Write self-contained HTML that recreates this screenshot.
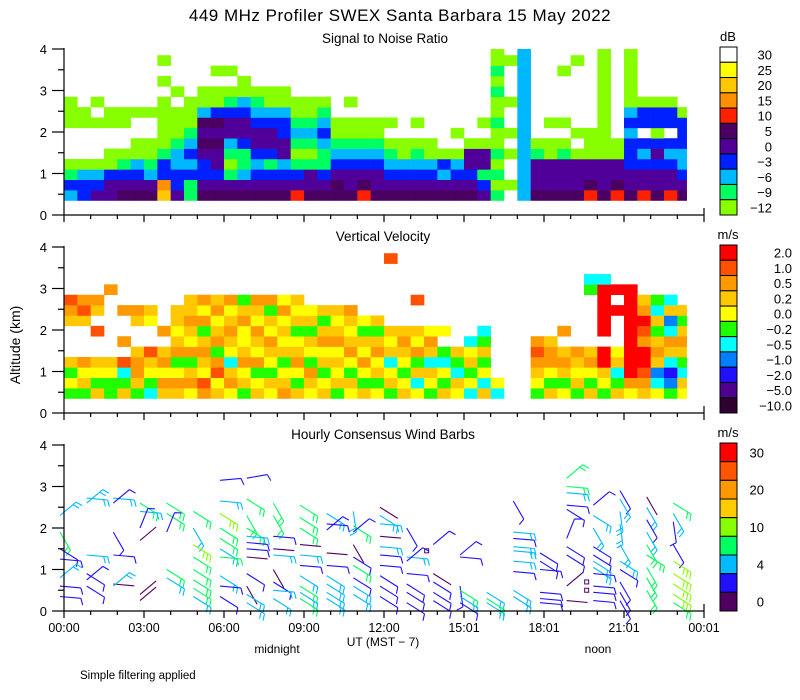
<!DOCTYPE html>
<html><head><meta charset="utf-8"><style>
html,body{margin:0;padding:0;background:#fff;}
svg{display:block;font-family:"Liberation Sans",sans-serif;}
</style></head><body>
<svg id="chart" width="800" height="700" viewBox="0 0 800 700" xmlns="http://www.w3.org/2000/svg">
<rect width="800" height="700" fill="#fff"/>
<text x="400" y="21" font-size="17" text-anchor="middle" letter-spacing="0.5">449 MHz Profiler SWEX Santa Barbara 15 May 2022</text>
<text x="385" y="43" font-size="13.5" text-anchor="middle">Signal to Noise Ratio</text>
<text x="383" y="241" font-size="13.5" text-anchor="middle">Vertical Velocity</text>
<text x="383" y="439" font-size="13.5" text-anchor="middle">Hourly Consensus Wind Barbs</text>
<text transform="translate(20,345) rotate(-90)" font-size="14" text-anchor="middle">Altitude (km)</text>
<text x="383" y="646" font-size="12" text-anchor="middle">UT (MST − 7)</text>
<text x="277" y="653" font-size="12" text-anchor="middle">midnight</text>
<text x="598" y="653" font-size="12" text-anchor="middle">noon</text>
<text x="80" y="679" font-size="11.5">Simple filtering applied</text>
<g id="layers"></g>
</svg>
<script>
// ---------- data ----------
const xTickLabels = ["00:00","03:00","06:00","09:00","12:00","15:01","18:01","21:01","00:01"];
const yTickLabels = ["0","1","2","3","4"];
const snrLabels = ["30","25","20","15","10","5","0","\u22123","\u22126","\u22129","\u221212"];
const snrColors = ["#ffffff","#ffff00","#ffc800","#ff9000","#ff2000","#4a0060","#500098","#0020ff","#00b8ff","#00ff60","#88ff00"];
const vvLabels = ["2.0","1.0","0.5","0.2","0.0","\u22120.2","\u22120.5","\u22121.0","\u22122.0","\u22125.0","\u221210.0"];
const vvColors = ["#ff0000","#ff5000","#ff9900","#ffc800","#ffff00","#20ff00","#00ffff","#0080ff","#2010ff","#500090","#300030"];
const windLabels = ["30","","20","","10","","4","","0"];
const windColors = ["#ff0000","#ff5500","#ff9900","#ffcc00","#88ff00","#00ff60","#00bbff","#2010ff","#500060"];
// SNR grid: one string per half-hour column, rows bottom (0.35 km) upward in 0.25 km steps
const snrCols = ["CBNL...LLL.....","BBCL...LL......","PBCL...L.L.....","PPBLL..LL......","DPBNL..LL......","DPBCLL..L......",
"DPCNLL..L......","GOBBNLLLLL.L.L.","PBBCCNLLL.L....","NNBCBCNLLL.....","DPBBPDPDCLL....","DPBPPDPDBLL.L..",
"DPNLNCPPBNL.L..","DPCNNBPPBCLL...","DPBCBPPBCNL....","DPBNBPPBCLL....","DPBCPPBBCLL....","RPBNLNCNLL.....",
"DPPNLNCNLL.....","DPBNNCBCNL.....","DDPBCNLL.......","DPPBCNLL.L.....","RDPBCNLL.......","DPPBCNLL.......",
"DPBCNL.L.......","DPBCLL.........","DPBCNL.L.......","DPBCLL.........","DPCBL..........","DPBCL.L........",
"DPBPPL.........","PBNPPL.L.......","NLNLNLLNLLNLNLL",".L..L.L..L...L.","CCCCCCCCCCCCCCC","DPPPNL.........",
"DPPPLL.L.......","DPPPNL.L....L..","DPPPL.L......L.","RDPPLLL........","DPPPLLLLLLLLLLL","RDPPLL.........",
"DPPBBBCBCLLLLLL","RPPBCB.BBL.....","DPPBPBLBBL.....","RPPBCB.BBL.....","DPBCCBBBL......","..............."];
const snrKey = {Y:1,G:2,O:3,R:4,D:5,P:6,B:7,C:8,N:9,L:10};
// Vertical velocity grid
const vvCols = ["NYNG...GOr.....","NGYO...GrO.....","GNYG..r.GO.....","NNYG......O....","GNCr.O..O......","NGOOG..GO......",
"CNYGr..YG......","GOYOG.O........","GOYNOGYGG......","YOGNOYGOGG.....","OrYGOGNOYO.....","GYrONOGYOG.....",
"YOGCYGOGYO.....","NGYOGYYOGN.....","GYNOYGOYGO.....","YGNYGOYGNO.....","OGYNGYGYOY.....","GNYOGYNGYG.....",
"YGONYGNGY......","GYNGYOGNG......","NGYGYOGYG......","YGNYOGYGO......","GNYOYGNY.......","YNGYOGNG.......",
"NGYCGYG......r.","GYNYGOG........","YCGNOYG..r.....","NYGCGOY........","GNYCN.Y........","YGCNG..........",
"CYNGYC.........","GCYNGNC........","CY.............","...............","...............","NYGOrO.........",
"GNYOOG.........","YNGOG.O........","NGYGO..........","GNYOG.....NC...","NYGRR.RRRRRC...","GNCGY...R.R....",
"YORRRRRRRRR....","GOrRROrROG.....","YCAGOGNGCN.....","NABCGOCAGC.....","YGCNGOGNG......","..............."];
const vvKey = {R:0,r:1,O:2,G:3,Y:4,N:5,C:6,A:7,B:8,P:9,D:10};
// Wind barbs per hourly column: altitude (km), speed (m/s), staff angle (deg)
const barbAlt = [
[2.3,1.9,1.5,1.25,0.8,0.6,0.35],[2.72,2.6,1.35,0.9,0.75,0.6],[2.72,2.6,1.9,1.35,0.65,0.6],[2.6,2.4,2.0,1.7,0.4,0.25],
[2.6,2.35,1.9,1.0,0.8],[2.4,2.0,1.6,1.3,1.0,0.75,0.55,0.35],[3.15,2.65,2.35,2.0,1.75,1.5,1.3,0.85,0.6,0.35],
[3.2,2.7,2.3,2.0,1.8,1.65,1.5,1.3,0.9,0.6,0.4,0.2],[2.6,2.3,1.8,1.5,1.35,1.0,0.7,0.5,0.3],
[2.55,2.25,2.0,1.6,1.35,1.1,0.85,0.6,0.45,0.3],[2.35,2.1,1.95,1.4,1.1,0.85,0.65,0.45,0.3],
[2.4,2.05,1.9,1.6,1.3,1.1,0.8,0.6,0.4],[2.5,2.3,2.1,1.8,1.55,1.35,1.1,0.85,0.6,0.35],
[2.0,1.45,1.3,1.2,0.9,0.65,0.45,0.2],[1.6,0.9,0.7,0.45,0.25],[1.3,1.35,0.6,0.5,0.35,0.2],[0.45,0.3,0.2],
[2.65,1.9,1.75,1.55,1.45,1.2,0.95,0.5,0.35],[1.4,1.2,1.0,0.45,0.3,0.2],
[3.2,3.0,2.85,2.55,2.45,1.75,1.55,1.35,0.6,0.25,0.7,0.5],[2.55,2.3,2.0,1.55,1.35,1.2,1.05,0.9,0.6,0.45,0.25],
[2.9,2.7,2.4,2.1,1.6,1.2,1.0,0.7,0.45,0.25],[2.75,2.5,2.2,1.9,1.6,1.35,1.05,0.8,0.5],[2.6,2.35,2.15,1.6,1.2,0.9,0.65,0.4,0.2]];
const barbSpeed = [
[5.5,8.5,3,3,5.5,3,3],[5.5,5.5,5.5,3,3,3],[5.5,3,3,3,1,5.5],[8.5,5.5,3,1,1,1],
[8.5,8.5,3,8.5,5.5],[8.5,5.5,12,8.5,8.5,8.5,8.5,5.5],[3,5.5,12,8.5,8.5,5.5,8.5,5.5,3,3],
[3,8.5,8.5,8.5,5.5,3,3,1,3,1,5.5,5.5],[8.5,8.5,3,1,5.5,1,3,5.5,5.5],
[8.5,8.5,8.5,1,5.5,3,5.5,8.5,5.5,8.5],[5.5,3,3,1,3,5.5,5.5,5.5,5.5],
[5.5,8.5,3,1,3,8.5,3,5.5,5.5],[1,5.5,5.5,1,5.5,3,3,3,3,3],
[3,0,5.5,3,3,3,3,3],[3,1,3,3,3],[3,3,3,8.5,5.5,3],[5.5,8.5,5.5],
[3,5.5,3,5.5,5.5,5.5,3,5.5,5.5],[3,3,3,3,3,3],
[8.5,8.5,5.5,3,3,3,3,3,1,1,0,0],[3,5.5,5.5,3,3,5.5,5.5,3,3,3,3],
[3,5.5,5.5,5.5,5.5,5.5,3,3,3,3],[1,5.5,3,5.5,8.5,8.5,8.5,8.5,8.5],[8.5,5.5,3,3,12,12,12,12,8.5]];
const barbAngle = [
[-40,60,32,5,-40,5,5],[5,-40,5,32,-40,32],[5,-40,60,5,5,-40],[32,5,-68,-40,-40,-40],
[32,32,-68,32,32],[32,60,32,32,32,32,32,32],[-5,5,32,32,32,32,5,32,5,32],
[-10,32,60,32,5,5,5,5,32,60,32,32],[60,60,5,5,5,60,32,5,32],
[32,32,32,5,5,5,32,32,32,32],[32,5,-40,5,5,32,32,32,32],
[82,32,-40,60,32,32,32,32,32],[32,32,5,5,5,5,5,32,32,32],
[60,0,5,-40,5,32,32,32],[-40,32,32,32,32],[5,-40,82,32,32,32],[32,32,32],
[60,5,5,5,5,5,5,32,32],[32,32,5,5,5,5],
[-40,5,5,5,32,-68,32,32,-40,5,0,0],[-40,32,60,32,32,32,32,5,5,5,5],
[60,60,82,82,60,32,32,60,60,60],[60,60,60,60,60,32,60,60,60],[32,60,82,60,32,32,32,32,32]];

// ---------- layout ----------
const X0 = 64, X1 = 704;
const panels = [{y0:215,y4:49},{y0:413,y4:247},{y0:611,y4:445}];
function xScale(h){ return X0 + h*(X1-X0)/24; }
function yScale(p,km){ const P=panels[p]; return P.y0 - km*(P.y0-P.y4)/4; }
const NS="http://www.w3.org/2000/svg";
const root=document.getElementById('layers');
function mk(tag,attrs,parent){ const e=document.createElementNS(NS,tag); for(const k in attrs) e.setAttribute(k,attrs[k]); (parent||root).appendChild(e); return e; }

// heatmaps
function heat(p,cols,key,colors,name){
  const g=mk('g',{});
  
  
  const hEnd=23.35;
  cols.forEach((s,c)=>{
    for(let r=0;r<s.length;r++){
      const ch=s[r]; if(!(ch in key)) continue;
      const h0=c*0.5, h1=Math.min(c*0.5+0.5,hEnd); if(h1<=h0) continue;
      const k0=0.35+r*0.25, k1=Math.min(k0+0.25,4.0); if(k1<=k0) continue;
      const x=xScale(h0), y=yScale(p,k1);
      const rc=mk('rect',{x:x.toFixed(2),y:y.toFixed(2),width:(xScale(h1)-x+0.3).toFixed(2),height:(yScale(p,k0)-y+0.3).toFixed(2),fill:colors[key[ch]]},g);
      
      
    }
  });
}
heat(0,snrCols,snrKey,snrColors,'snr-heatmap');
heat(1,vvCols,vvKey,vvColors,'velocity-heatmap');

// wind barbs
function barbColor(s){ if(s<2) return windColors[8]; if(s<4) return windColors[7]; if(s<7) return windColors[6]; if(s<10) return windColors[5]; if(s<15) return windColors[4]; if(s<20) return windColors[3]; return windColors[1]; }
const bg=mk('g',{});


barbAlt.forEach((alts,c)=>{
  alts.forEach((km,i)=>{
    const s=barbSpeed[c][i], a=barbAngle[c][i]*Math.PI/180;
    const x=xScale(c-0.15), y=yScale(2,km), col=barbColor(s);
    if(s===0){
      const sq=mk('rect',{x:x+18,y:y-2,width:4,height:4,fill:'none',stroke:windColors[8],'stroke-width':1},bg);
      
      
      return;
    }
    const L=21, ex=x+L*Math.cos(a), ey=y+L*Math.sin(a);
    let d=`M${x.toFixed(1)},${y.toFixed(1)}L${ex.toFixed(1)},${ey.toFixed(1)}`;
    const n=Math.round(s/3.5), fa=a+70*Math.PI/180;
    for(let f=0;f<n;f++){
      const px=ex-f*4*Math.cos(a), py=ey-f*4*Math.sin(a);
      d+=`M${px.toFixed(1)},${py.toFixed(1)}L${(px+7*Math.cos(fa)).toFixed(1)},${(py+7*Math.sin(fa)).toFixed(1)}`;
    }
    const b=mk('path',{d:d,stroke:col,'stroke-width':1.1,fill:'none'},bg);
    
    
  });
});

// axes
panels.forEach((P,p)=>{
  const g=mk('g',{stroke:'#000','stroke-width':1.2,fill:'none'});
  
  
  mk('path',{d:`M${X0},${P.y4-1}V${P.y0}H${X1}V${P.y0-7}`},g);
  for(let k=0;k<=8;k++){
    const y=yScale(p,k/2);
    mk('line',{x1:k%2?58:52,x2:X0,y1:y,y2:y},g);
  }
  for(let h=0;h<=24;h++){
    const x=xScale(h);
    mk('line',{x1:x,x2:x,y1:P.y0,y2:P.y0+(h%3?4:7)},g);
  }
  yTickLabels.forEach((t,k)=>{
    const tx=mk('text',{x:47,y:yScale(p,k)+5,'font-size':13,'text-anchor':'end',fill:'#000',stroke:'none'});
    tx.textContent=t;
    
    
  });
});
xTickLabels.forEach((t,i)=>{
  const tx=mk('text',{x:xScale(i*3),y:632,'font-size':12.5,'text-anchor':'middle'});
  tx.textContent=t;
  
  
});

// colorbars
function cbar(p,colors,labels,unit,lx,name){
  const P=panels[p], top=P.y4-2, bot=P.y0, n=colors.length, hgt=(bot-top)/n;
  const g=mk('g',{});
  
  
  colors.forEach((c,i)=>{
    const r=mk('rect',{x:720,y:top+i*hgt,width:17,height:hgt,fill:c,stroke:'#000','stroke-width':1},g);
    
    
    if(labels[i]){
      const t=mk('text',{x:lx,y:top+i*hgt+hgt/2+5,'font-size':13,'text-anchor':'end'},g);
      t.textContent=labels[i];
      
      
    }
  });
  const u=mk('text',{x:728,y:top-6,'font-size':13,'text-anchor':'middle'},g);
  u.textContent=unit;
  
  
}
cbar(0,snrColors,snrLabels,'dB',772,'snr-colorbar');
cbar(1,vvColors,vvLabels,'m/s',792,'velocity-colorbar');
cbar(2,windColors,windLabels,'m/s',764,'wind-colorbar');
</script>
</body></html>
